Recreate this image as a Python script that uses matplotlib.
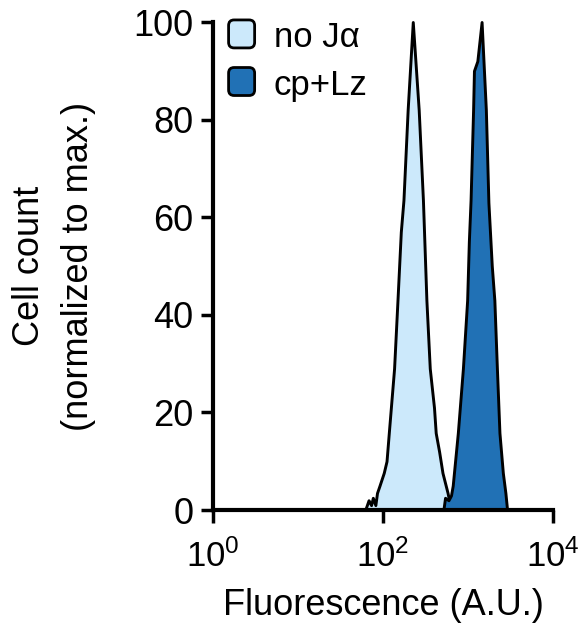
import numpy as np
import matplotlib
matplotlib.use('Agg')
import matplotlib.pyplot as plt
from matplotlib.patches import FancyBboxPatch, Patch

plt.rcParams['font.family'] = ['Liberation Sans', 'DejaVu Sans']

# histogramy (fluorescencija, postotak od maksimuma)
x_noJa = [61.7, 67.6, 72.4, 75.9, 81.3, 85, 91, 102, 110, 117, 135, 148, 162, 174,
          195, 224, 263, 295, 324, 355, 398, 417, 457, 501, 575, 631]
y_noJa = [0, 2, 1, 2.5, 1, 3.5, 5, 7.6, 10, 15.8, 29, 43, 57, 63.5,
          82, 100, 82, 63.5, 43, 29, 21, 15.8, 12, 7.6, 3.5, 0]

x_cpLz = [513, 537, 589, 631, 661, 759, 871, 977, 1023, 1072, 1148, 1175, 1288,
          1445, 1622, 1738, 1905, 2042, 2188, 2344, 2570, 2754, 2884]
y_cpLz = [0, 2.5, 2, 3, 5, 15.8, 29, 43, 55, 63.5, 82, 90, 92,
          100, 82, 63, 50, 43, 29, 15.8, 7.6, 3.5, 0]

labels = ['no J\u03b1', 'cp+Lz']
boje = ['#cce9fb', '#2171b5']
xticks = [1, 100, 10000]
xticklabels = [r'$\mathregular{10^{0}}$', r'$\mathregular{10^{2}}$', r'$\mathregular{10^{4}}$']
yticks = [0, 20, 40, 60, 80, 100]


class ZaobljeniHandler:
    def legend_artist(self, legend, orig_handle, fontsize, handlebox):
        x0, y0 = handlebox.xdescent, handlebox.ydescent
        w, h = handlebox.width, handlebox.height
        p = FancyBboxPatch((x0, y0 - 0.05 * h), w, h * 1.1,
                           boxstyle='round,pad=0,rounding_size=4',
                           fc=orig_handle.get_facecolor(), ec='black', lw=2,
                           transform=handlebox.get_transform())
        handlebox.add_artist(p)
        return p


fig = plt.figure(figsize=(5.79, 6.3), dpi=100)
ax = fig.add_axes([213/579, 120/630, 340/579, 488/630])

ax.fill_between(x_noJa, y_noJa, 0, facecolor=boje[0], edgecolor='black', lw=2.1, zorder=2, clip_on=False)
ax.fill_between(x_cpLz, y_cpLz, 0, facecolor=boje[1], edgecolor='black', lw=2.1, zorder=3, clip_on=False)

ax.set_xscale('log')
ax.set_xlim(1, 1e4)
ax.set_ylim(0, 100)
ax.set_xticks(xticks)
ax.set_xticklabels(xticklabels)
ax.xaxis.set_minor_locator(matplotlib.ticker.NullLocator())
ax.set_yticks(yticks)

for s in ['top', 'right']:
    ax.spines[s].set_visible(False)
for s in ['left', 'bottom']:
    ax.spines[s].set_linewidth(3)
    ax.spines[s].set_zorder(5)
ax.tick_params(width=2.5, length=9, labelsize=26)
ax.tick_params(axis='x', pad=12, labelsize=25)
ax.tick_params(axis='y', pad=5)

ax.set_xlabel('Fluorescence (A.U.)', fontsize=26, labelpad=10)
ax.set_ylabel('Cell count\n(normalized to max.)', fontsize=26, labelpad=27, linespacing=1.5)

handles = [Patch(facecolor=b) for b in boje]
ax.legend(handles, labels, loc='upper left', bbox_to_anchor=(0.005, 1.03), frameon=False,
          fontsize=25, handlelength=0.75, handleheight=0.75, handletextpad=0.55,
          labelspacing=0.42, borderaxespad=0,
          handler_map={Patch: ZaobljeniHandler()})

fig.savefig('out.png', dpi=100)
